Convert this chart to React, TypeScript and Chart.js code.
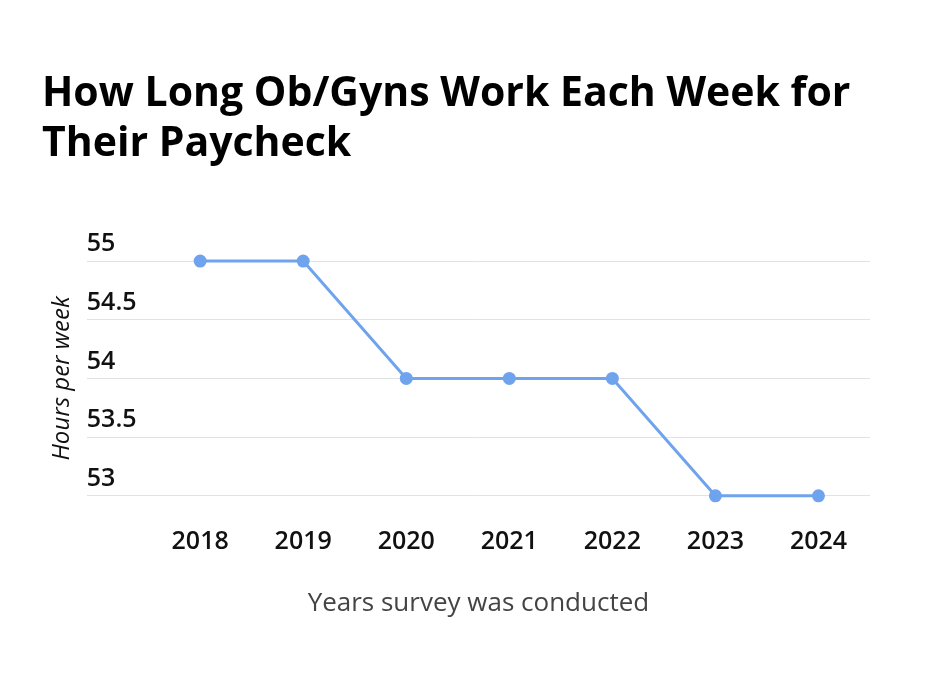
import React, { useEffect, useRef } from "react";
import { Chart, registerables } from "chart.js";

Chart.register(...registerables);

const titleLines = ["How Long Ob/Gyns Work Each Week for", "Their Paycheck"];
const years = [2018, 2019, 2020, 2021, 2022, 2023, 2024];
const hours = [55, 55, 54, 54, 54, 53, 53];
const yTicks = [53, 53.5, 54, 54.5, 55];
const yTitle = "Hours per week";
const xTitle = "Years survey was conducted";

const FONT = "'Open Sans', Lato, sans-serif";

export default function App() {
  const ref = useRef<HTMLCanvasElement | null>(null);
  useEffect(() => {
    if (!ref.current) return;
    const chart = new Chart(ref.current, {
      type: "line",
      data: {
        datasets: [
          {
            data: years.map((y, i) => ({ x: y, y: hours[i] })),
            borderColor: "#6fa3ee",
            backgroundColor: "#6fa3ee",
            borderWidth: 3,
            pointRadius: 5,
            pointHoverRadius: 5,
            tension: 0,
            clip: false as any,
          },
        ],
      },
      options: {
        animation: false,
        responsive: false,
        maintainAspectRatio: false,
        layout: { padding: { left: 42, right: 64, top: 0, bottom: 71 } },
        plugins: {
          legend: { display: false },
          tooltip: { enabled: false },
          title: {
            display: true,
            text: titleLines,
            align: "start",
            color: "#000",
            font: { family: FONT, size: 41, weight: "bold", lineHeight: 1.22 },
            padding: { top: 69, bottom: 92 },
          },
        },
        scales: {
          x: {
            type: "linear",
            min: 2016.9,
            max: 2024.5,
            afterBuildTicks: (axis: any) => {
              axis.ticks = years.map((v) => ({ value: v }));
            },
            grid: { display: false, drawTicks: false },
            border: { display: false },
            ticks: {
              color: "#111",
              padding: 31,
              font: { family: FONT, size: 25, weight: "600" },
              callback: (v: any) => String(v),
            },
            title: {
              display: true,
              text: xTitle,
              color: "#444",
              font: { family: FONT, size: 26 },
              padding: { top: 0, bottom: 0 },
            },
          },
          y: {
            min: 53,
            max: 55,
            afterBuildTicks: (axis: any) => {
              axis.ticks = yTicks.map((v) => ({ value: v }));
            },
            grid: { color: "#e2e2e2", lineWidth: 1, drawTicks: false },
            border: { display: false },
            ticks: {
              mirror: true,
              padding: 0,
              labelOffset: -17,
              color: "#111",
              font: { family: FONT, size: 25, weight: "600" },
              callback: (v: any) => String(v),
            },
            title: {
              display: true,
              text: yTitle,
              color: "#111",
              font: { family: FONT, size: 24, style: "italic" },
              padding: { top: 6, bottom: 10 },
            },
          },
        },
      },
    });
    return () => chart.destroy();
  }, []);
  return (
    <div style={{ position: "fixed", left: 0, top: 0, width: 934, height: 690, background: "#fff" }}>
      <canvas ref={ref} width={934} height={690} style={{ width: 934, height: 690 }} />
    </div>
  );
}
